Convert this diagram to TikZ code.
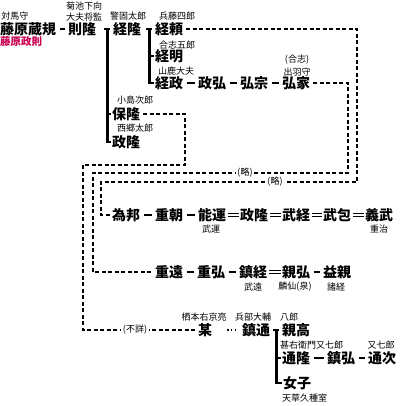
\documentclass[tikz,border=0pt]{standalone}
\usepackage{fontspec}
\setmainfont{Noto Sans CJK JP}
\definecolor{aliasred}{RGB}{200,0,80}
\tikzset{
  person/.style={font=\fontsize{14}{15}\selectfont\bfseries, inner sep=0pt, anchor=west},
  office/.style={font=\fontsize{9}{10}\selectfont, inner sep=0pt},
  kinline/.style={line width=2.2pt, shorten <=3.5pt, shorten >=3.5pt},
  adoptline/.style={double, double distance=2.4pt, line width=0.8pt, shorten <=1.5pt, shorten >=1.5pt},
  branchline/.style={line width=2.4pt},
  skipline/.style={line width=2.2pt, dash pattern=on 4pt off 2.5pt, shorten <=3pt, shorten >=2pt},
}
\begin{document}
\begin{tikzpicture}[x=1pt,y=-1pt]
  \useasboundingbox (0,0) rectangle (401,406);
  % first generations
  \node[person] (kurenori) at (0,29) {藤原蔵規};
  \node[office] at (15,16) {対馬守};
  \node[office, anchor=west, text=aliasred, font=\fontsize{10.5}{11}\selectfont\bfseries] (kurenori-a) at (0,42) {藤原政則};
  \node[person] (noritaka) at (68,29) {則隆};
  \node[office] at (84,6) {菊池下向};
  \node[office] at (84,17) {大夫将監};
  \node[person] (tsunetaka) at (113,29) {経隆};
  \node[office] at (128,16) {警固太郎};
  \node[person] (yasutaka) at (112,114) {保隆};
  \node[office] at (135,100) {小島次郎};
  \node[person] (masataka) at (112,142) {政隆};
  \node[office] at (135,128) {西郷太郎};
  \node[person] (tsuneyori) at (155,29) {経頼};
  \node[office] at (177,16) {兵藤四郎};
  \node[person] (tsuneaki) at (155,56) {経明};
  \node[office] at (177,45) {合志五郎};
  \node[person] (tsunemasa) at (155,83) {経政};
  \node[office] at (176,71) {山鹿大夫};
  \node[person] (masahiro) at (198,83) {政弘};
  \node[person] (hiromune) at (240,83) {弘宗};
  \node[person] (hiroie) at (282,83) {弘家};
  \node[office] at (297,60) {(合志)};
  \node[office] at (297,72) {出羽守};
  % later lines
  \node[person] (tamekuni) at (112,215) {為邦};
  \node[person] (shigetomo) at (155,215) {重朝};
  \node[person] (yoshiyuki) at (198,215) {能運};
  \node[office] at (211,229) {武運};
  \node[person] (masataka2) at (240,215) {政隆};
  \node[person] (taketsune) at (282,215) {武経};
  \node[person] (takekane) at (323,215) {武包};
  \node[person] (yoshitake) at (365,215) {義武};
  \node[office] at (379,229) {重治};
  \node[person] (shigetoo) at (155,272) {重遠};
  \node[person] (shigehiro) at (197,272) {重弘};
  \node[person] (shigetsune) at (239,272) {鎮経};
  \node[office] at (253,287) {武遠};
  \node[person] (chikahiro) at (282,272) {親弘};
  \node[office] at (295,287) {麟仙(泉)};
  \node[person] (masuchika) at (323,272) {益親};
  \node[office] at (336,287) {諸経};
  \node[person] (mou) at (198,330) {某};
  \node[office] at (204,317) {栖本右京亮};
  \node[person] (shigemichi) at (242,330) {鎮通};
  \node[office] at (253,317) {兵部大輔};
  \node[person] (chikataka) at (282,330) {親高};
  \node[office] at (289,317) {八郎};
  \node[person] (michitaka) at (282,358) {通隆};
  \node[office, anchor=west] at (280,345) {甚右衛門又七郎};
  \node[person] (shigehiro2) at (327,358) {鎮弘};
  \node[person] (michitsugu) at (368,358) {通次};
  \node[office] at (381,345) {又七郎};
  \node[person] (nyoshi) at (283,383) {女子};
  \node[office, anchor=west] at (282,398) {天草久種室};

  % parent to child
  \draw[kinline] (kurenori) -- (noritaka);
  \draw[kinline] (tsunemasa) -- (masahiro);
  \draw[kinline] (masahiro) -- (hiromune);
  \draw[kinline] (hiromune) -- (hiroie);
  \draw[kinline] (tamekuni) -- (shigetomo);
  \draw[kinline] (shigetomo) -- (yoshiyuki);
  \draw[kinline] (shigetoo) -- (shigehiro);
  \draw[kinline] (shigehiro) -- (shigetsune);
  \draw[kinline] (chikahiro) -- (masuchika);
  \draw[kinline] (michitaka) -- (shigehiro2);
  \draw[kinline] (shigehiro2) -- (michitsugu);
  \draw[adoptline] (yoshiyuki) -- (masataka2);
  \draw[adoptline] (masataka2) -- (taketsune);
  \draw[adoptline] (taketsune) -- (takekane);
  \draw[adoptline] (takekane) -- (yoshitake);
  \draw[adoptline] (shigetsune) -- (chikahiro);
  \draw[line width=1.3pt, dash pattern=on 1.3pt off 2.4pt, shorten <=15pt, shorten >=4pt] (mou) -- (shigemichi);

  % sibling brackets
  \coordinate (b1) at ([xshift=11pt]noritaka.east);
  \draw[branchline] ([xshift=-3pt]b1) -- ([xshift=3pt]b1);
  \draw[branchline] (b1) |- ([xshift=-1pt]masataka.west);
  \draw[branchline] (b1 |- yasutaka.west) -- ([xshift=-1pt]yasutaka.west);
  \coordinate (b2) at ([xshift=8pt]tsunetaka.east);
  \draw[branchline] ([xshift=-3pt]b2) -- ([xshift=3pt]b2);
  \draw[branchline] (b2) |- ([xshift=-1pt]tsunemasa.west);
  \draw[branchline] (b2 |- tsuneaki.west) -- ([xshift=-1pt]tsuneaki.west);
  \coordinate (b3) at ([xshift=6pt]shigemichi.east);
  \draw[branchline] ([xshift=-3pt]b3) -- ([xshift=3pt]b3);
  \draw[branchline] (b3) |- ([xshift=-1pt]nyoshi.west);
  \draw[branchline] (b3 |- michitaka.west) -- ([xshift=-1pt]michitaka.west);

  % omitted generations
  \coordinate (r1) at (357,182);
  \coordinate (l1) at (101,0);
  \coordinate (r2) at (348,173);
  \coordinate (l2) at (93,0);
  \coordinate (r3) at (185,165);
  \coordinate (l3) at (83,0);
  \draw[skipline] (tsuneyori.east) -| (r1) -| (tamekuni.west -| l1) -- (tamekuni.west);
  \draw[skipline] (hiroie.east) -| (r2) -| (shigetoo.west -| l2) -- (shigetoo.west);
  \draw[skipline] (yasutaka.east) -| (r3) -| (mou.west -| l3) -- (mou.west);
  \node[office, fill=white, inner xsep=1.5pt] (ryaku1) at (275,182) {(略)};
  \node[office, fill=white, inner xsep=1.5pt] (ryaku2) at (245,173) {(略)};
  \node[office, fill=white, inner xsep=1.5pt] (fusho) at (135,330) {(不詳)};
\end{tikzpicture}
\end{document}
